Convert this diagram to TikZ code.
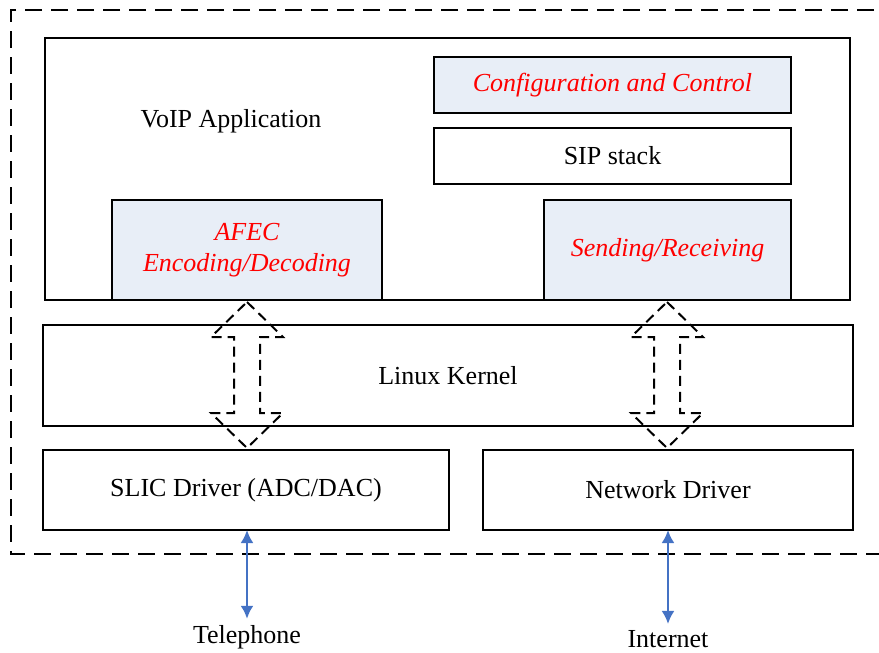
\documentclass[tikz,border=0pt]{standalone}
\usepackage{fontspec}
\setmainfont{Liberation Serif}
\usetikzlibrary{arrows.meta}
\definecolor{lightfill}{HTML}{E8EEF7}
\definecolor{arrowblue}{HTML}{4472C4}
\tikzset{
  box/.style={draw=black, line width=1pt, rectangle, inner sep=0pt, font=\fontsize{13}{15}\selectfont},
  shaded/.style={box, fill=lightfill, text=red, font=\fontsize{13}{15.5}\selectfont\itshape, align=center},
  outerdash/.style={draw=black, line width=1pt, dash pattern=on 8.5pt off 4.5pt},
  blockarrow/.style={draw=black, line width=1pt, dash pattern=on 5pt off 3pt},
  bluearrow/.style={draw=arrowblue, line width=1.2pt, {Latex[length=6.5pt,width=6.5pt]}-{Latex[length=6.5pt,width=6.5pt]}},
  label/.style={font=\fontsize{13}{15}\selectfont, inner sep=3pt}
}
\begin{document}
\begin{tikzpicture}[x=0.5pt,y=-0.5pt]
\useasboundingbox (0,0) rectangle (879,653);
% outer dashed frame (right side beyond the page)
\draw[outerdash] (900,10) -- (11,10) -- (11,554) -- (900,554);

\node[box, minimum width=402.5pt, minimum height=131pt] (app) at (447.5,169) {};
\node[font=\fontsize{13}{15}\selectfont] (apptext) at (231,121) {VoIP Application};
\node[shaded, minimum width=178.5pt, minimum height=28pt] (conf) at (612.5,85) {Configuration and Control};
\node[box, minimum width=178.5pt, minimum height=28pt] (sip) at (612.5,156) {SIP stack};
\node[shaded, minimum width=135pt, minimum height=50pt] (afec) at (247,250) {AFEC\\Encoding/Decoding};
\node[shaded, minimum width=123.5pt, minimum height=50pt] (send) at (667.5,250) {Sending/Receiving};
\node[box, minimum width=405pt, minimum height=50.5pt] (kernel) at (448,375.5) {Linux Kernel};
\node[box, minimum width=203pt, minimum height=40pt] (slic) at (246,490) {SLIC Driver (ADC/DAC)};
\node[box, minimum width=185pt, minimum height=40pt] (net) at (668,490) {Network Driver};

% dashed block double arrows
\foreach \cx in {247,667}{
  \draw[blockarrow] (\cx,302) -- (\cx+36,337) -- (\cx+13,337) -- (\cx+13,413) -- (\cx+36,413)
    -- (\cx,448) -- (\cx-36,413) -- (\cx-13,413) -- (\cx-13,337) -- (\cx-36,337) -- cycle;
}

\node[label] (tel) at (247,637) {Telephone};
\node[label] (inet) at (668,639) {Internet};
\draw[bluearrow] (247,530) -- (tel.north);
\draw[bluearrow] (668,530) -- (inet.north);
\end{tikzpicture}
\end{document}
